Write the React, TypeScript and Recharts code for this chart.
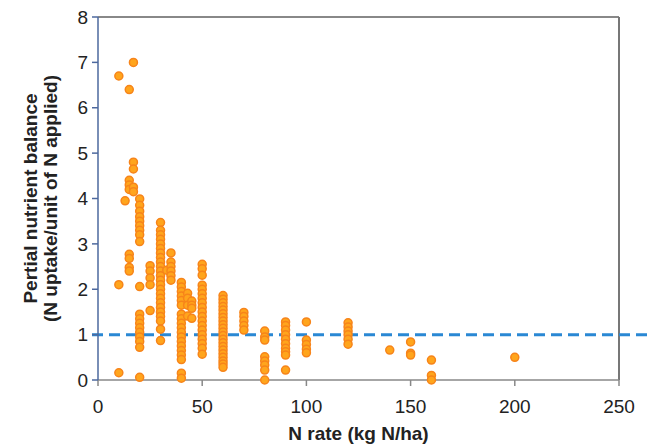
import { ScatterChart, Scatter, XAxis, YAxis, ReferenceLine } from 'recharts';

// N rate (kg N/ha) of each column of points
const rates = [10, 13, 15, 17, 20, 25, 30, 33, 35, 40, 43, 45, 50, 60, 70, 80, 90, 100, 120, 140, 150, 160, 200];

// partial nutrient balance values at each rate
const balances = [
  [6.7, 2.1, 0.16],
  [3.95],
  [6.4, 4.4, 4.3, 4.2, 2.77, 2.68, 2.48, 2.4],
  [7.0, 4.8, 4.65, 4.25, 4.15],
  [3.99, 3.85, 3.72, 3.6, 3.5, 3.4, 3.3, 3.2, 3.05, 2.06, 1.45, 1.35, 1.25, 1.15, 1.05, 0.95, 0.85, 0.72, 0.06],
  [2.52, 2.4, 2.25, 2.1, 1.53],
  [3.47, 3.3, 3.2, 3.1, 3.0, 2.9, 2.8, 2.7, 2.6, 2.5, 2.4, 2.3, 2.2, 2.1, 2.0, 1.9, 1.8, 1.7, 1.6, 1.5, 1.4, 1.3, 1.12, 0.87],
  [2.42],
  [2.8, 2.6, 2.5, 2.4, 2.3, 2.2],
  [2.15, 2.05, 1.95, 1.85, 1.75, 1.65, 1.45, 1.35, 1.25, 1.15, 1.05, 0.95, 0.85, 0.75, 0.65, 0.55, 0.45, 0.15, 0.04],
  [1.91, 1.8, 1.65, 1.41],
  [1.74, 1.65, 1.58, 1.36],
  [2.55, 2.45, 2.31, 2.09, 2.0, 1.9, 1.8, 1.7, 1.6, 1.5, 1.4, 1.3, 1.2, 1.1, 1.0, 0.9, 0.8, 0.7, 0.57],
  [1.86, 1.78, 1.7, 1.62, 1.54, 1.46, 1.38, 1.3, 1.22, 1.14, 1.06, 0.98, 0.9, 0.82, 0.74, 0.66, 0.58, 0.5, 0.42, 0.35, 0.28],
  [1.49, 1.4, 1.3, 1.2, 1.1],
  [1.08, 0.95, 0.88, 0.51, 0.42, 0.33, 0.22, 0.0],
  [1.28, 1.2, 1.1, 1.0, 0.9, 0.8, 0.7, 0.62, 0.55, 0.22],
  [1.28, 0.88, 0.78, 0.68, 0.6],
  [1.26, 1.17, 1.08, 1.0, 0.9, 0.79],
  [0.66],
  [0.84, 0.59, 0.55],
  [0.44, 0.1, 0.0],
  [0.5],
];

const xTicks = [0, 50, 100, 150, 200, 250];
const yTicks = [0, 1, 2, 3, 4, 5, 6, 7, 8];
const threshold = 1;

const points = rates.flatMap((rate, i) => balances[i].map((v) => ({ rate, v })));

const font = '"Liberation Sans", Arial, sans-serif';

const Dot = (props: any) => (
  <circle cx={props.cx} cy={props.cy} r={4} fill="#ffa51c" stroke="#f7841a" strokeWidth={1.5} />
);

const DashedLine = (props: any) => (
  <line x1={props.x1 - 6} y1={props.y1} x2={652} y2={props.y2} stroke="#2a88d4" strokeWidth={3} strokeDasharray="11 6" />
);

const YTitle = (props: any) => {
  const vb = props.viewBox;
  const cy = vb.y + vb.height / 2;
  return (
    <g fontFamily={font} fontWeight="bold" fontSize={19} fill="#222">
      <text x={30} y={cy} transform={`rotate(-90 30 ${cy})`} textAnchor="middle" dominantBaseline="central">
        Pertial nutrient balance
      </text>
      <text x={50} y={cy} transform={`rotate(-90 50 ${cy})`} textAnchor="middle" dominantBaseline="central">
        (N uptake/unit of N applied)
      </text>
    </g>
  );
};

export default function App() {
  return (
    <div style={{ position: 'absolute', left: 0, top: 0, background: '#fff' }}>
      <ScatterChart width={652} height={446} margin={{ top: 17, right: 33, bottom: 0, left: 0 }}>
        <XAxis
          type="number"
          dataKey="rate"
          domain={[0, 250]}
          ticks={xTicks}
          height={66}
          stroke="#888"
          strokeWidth={1.5}
          tickSize={6}
          tickMargin={14}
          tick={{ fill: '#222', fontSize: 19, fontFamily: font }}
          label={{ value: 'N rate (kg N/ha)', position: 'insideBottom', offset: 6, fill: '#222', fontSize: 19, fontWeight: 'bold', fontFamily: font }}
        />
        <YAxis
          type="number"
          dataKey="v"
          domain={[0, 8]}
          ticks={yTicks}
          width={98}
          stroke="#4d689e"
          strokeWidth={1.5}
          tickSize={6}
          tickMargin={4}
          tick={{ fill: '#222', fontSize: 19, fontFamily: font }}
          label={{ content: YTitle }}
        />
        <ReferenceLine y={8} stroke="#888" strokeWidth={2} />
        <ReferenceLine x={250} stroke="#777" strokeWidth={2} />
        <Scatter data={points} shape={Dot} isAnimationActive={false} />
        <ReferenceLine y={threshold} shape={DashedLine} />
      </ScatterChart>
    </div>
  );
}
